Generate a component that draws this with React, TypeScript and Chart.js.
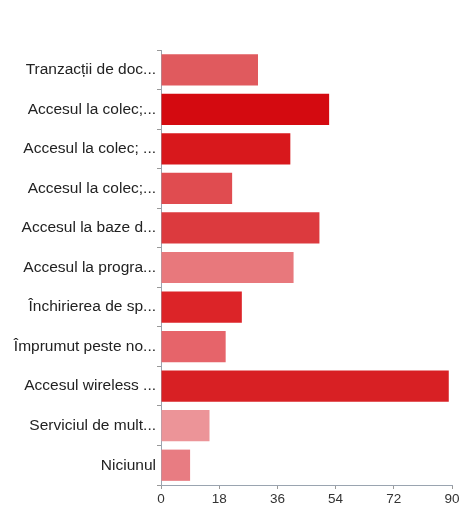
import React, { useEffect, useRef } from "react";
import { Chart, registerables } from "chart.js";

Chart.register(...registerables);

const categories: string[] = [
  "Tranzacții de doc...",
  "Accesul la colec;...",
  "Accesul la colec; ...",
  "Accesul la colec;...",
  "Accesul la baze d...",
  "Accesul la progra...",
  "Închirierea de sp...",
  "Împrumut peste no...",
  "Accesul wireless ...",
  "Serviciul de mult...",
  "Niciunul",
];

const values: number[] = [30, 52, 40, 22, 49, 41, 25, 20, 89, 15, 9];

const barColors: string[] = [
  "#e05a5e",
  "#d40a10",
  "#d8181c",
  "#e04c50",
  "#dc3a3e",
  "#e8787c",
  "#dc2428",
  "#e6646a",
  "#d82024",
  "#ec9498",
  "#e87c82",
];

const xTicks: number[] = [0, 18, 36, 54, 72, 90];

export default function App() {
  const ref = useRef<HTMLCanvasElement | null>(null);

  useEffect(() => {
    if (!ref.current) return;
    const chart = new Chart(ref.current, {
      type: "bar",
      data: {
        labels: categories,
        datasets: [
          {
            data: values,
            backgroundColor: barColors,
            borderWidth: 0,
            barPercentage: 0.79,
            categoryPercentage: 1,
          },
        ],
      },
      options: {
        indexAxis: "y",
        animation: false,
        responsive: false,
        maintainAspectRatio: false,
        layout: { padding: { top: 50, right: 11, left: 0, bottom: 0 } },
        plugins: { legend: { display: false }, tooltip: { enabled: false } },
        scales: {
          x: {
            min: 0,
            max: 90,
            afterBuildTicks: (scale: any) => {
              scale.ticks = xTicks.map((v) => ({ value: v }));
            },
            afterFit: (scale: any) => {
              scale.height = 23;
            },
            grid: {
              drawOnChartArea: false,
              drawTicks: true,
              tickLength: 4,
              color: "#999",
            },
            border: { display: true, color: "#9aa4b0", width: 1 },
            ticks: {
              color: "#333",
              padding: 2,
              font: { family: "Liberation Sans, Arial, sans-serif", size: 13.5 },
            },
          },
          y: {
            afterFit: (scale: any) => {
              scale.width = 161;
            },
            grid: {
              drawOnChartArea: false,
              drawTicks: true,
              tickLength: 4,
              color: "#999",
            },
            border: { display: true, color: "#9aa4b0", width: 1 },
            ticks: {
              color: "#222",
              padding: 1,
              autoSkip: false,
              font: { family: "Liberation Sans, Arial, sans-serif", size: 15.5 },
            },
          },
        },
      },
    });
    return () => chart.destroy();
  }, []);

  return (
    <div style={{ position: "fixed", left: 0, top: 0, width: 463, height: 508, background: "#fff" }}>
      <canvas ref={ref} width={463} height={508} style={{ display: "block" }} />
    </div>
  );
}
